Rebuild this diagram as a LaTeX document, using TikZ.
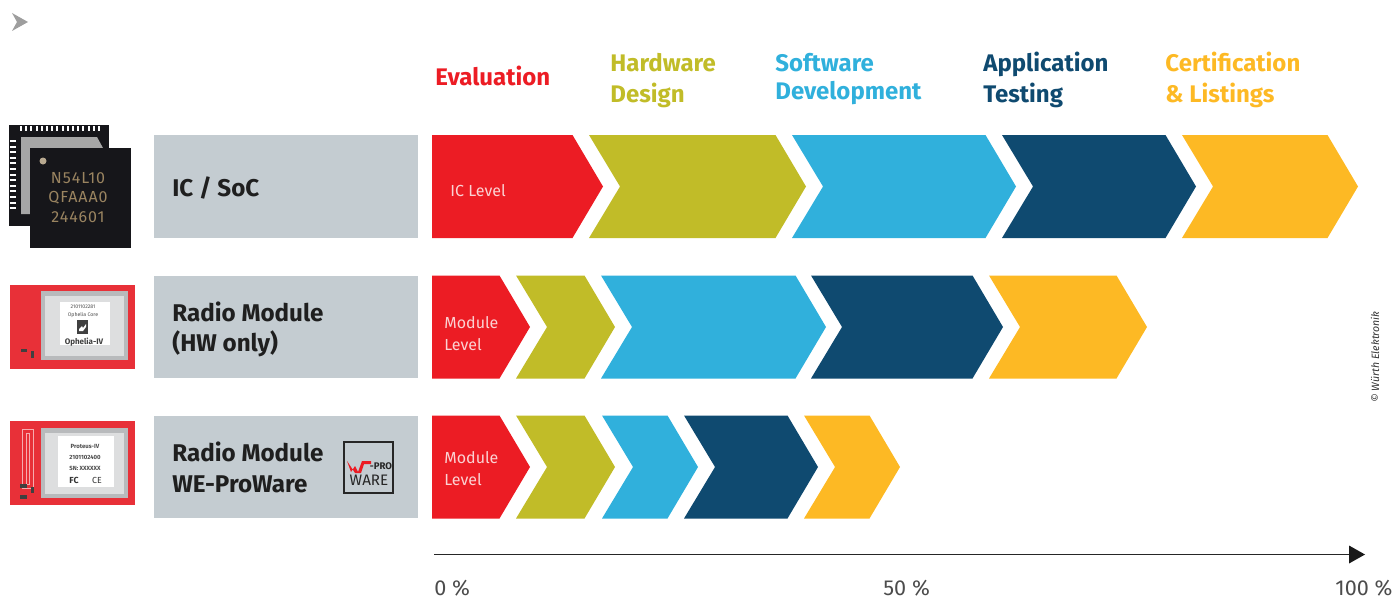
\documentclass[tikz,border=0pt]{standalone}
\usepackage{fontspec}
\setmainfont{Fira Sans}
\definecolor{cRed}{HTML}{EC1C24}
\definecolor{cOlive}{HTML}{C1BC28}
\definecolor{cBlue}{HTML}{30B0DC}
\definecolor{cNavy}{HTML}{0F4A70}
\definecolor{cYellow}{HTML}{FDB924}
\definecolor{cGrey}{HTML}{C4CCD1}
\definecolor{cChip}{HTML}{16161A}
\definecolor{cTan}{HTML}{9A8460}
\definecolor{cPcb}{HTML}{E83038}
\definecolor{cSilver}{HTML}{B8BABC}
\definecolor{cShield}{HTML}{DDDEDF}
\newcommand{\chevronA}[4]{\fill[#1] (#2,#4) -- ({#3-30.5},#4) -- (#3,{#4+51.5}) -- ({#3-30.5},{#4+103}) -- (#2,{#4+103}) -- ({#2+31},{#4+51.5}) -- cycle;}
\newcommand{\chevronF}[4]{\fill[#1] (#2,#4) -- ({#3-30.5},#4) -- (#3,{#4+51.5}) -- ({#3-30.5},{#4+103}) -- (#2,{#4+103}) -- cycle;}
\tikzset{
  x=0.5pt,y=-0.5pt,
  head/.style={anchor=base west,inner sep=0pt,font=\fontsize{12}{12}\selectfont\bfseries},
  rowtitle/.style={anchor=base west,inner sep=0pt,text=black!88,font=\fontsize{12.1}{12.1}\selectfont\bfseries},
  level/.style={anchor=west,inner sep=0pt,text=white!80!cRed,font=\fontsize{8}{8}\selectfont},
  axislab/.style={anchor=west,inner sep=0pt,text=black!70,font=\fontsize{10.8}{10.8}\selectfont},
  chiptext/.style={inner sep=0pt,text=cTan,font=\fontsize{8}{8}\selectfont\addfontfeatures{LetterSpace=6}},
  tiny/.style={inner sep=0pt,text=black!70,font=\fontsize{2.6}{2.6}\selectfont},
  greybox/.style={fill=cGrey},
}
\begin{document}
\begin{tikzpicture}
\useasboundingbox (0,0) rectangle (1395,599);
% top-left marker
\fill[black!38] (12,13) -- (28,22) -- (12,31) -- (17,22) -- cycle;
% column headings
\node[head,text=cRed] (hEval) at (435,85) {Evaluation};
\node[head,text=cOlive] (hHw1) at (610,72) {Hardware};
\node[head,text=cOlive] (hHw2) at (610,103) {Design};
\node[head,text=cBlue] (hSw1) at (775,72) {Software};
\node[head,text=cBlue] (hSw2) at (775,99) {Development};
\node[head,text=cNavy] (hApp1) at (983,72) {Application};
\node[head,text=cNavy] (hApp2) at (983,103) {Testing};
\node[head,text=cYellow] (hCert1) at (1165,72) {Certification};
\node[head,text=cYellow] (hCert2) at (1165,103) {\& Listings};
% grey boxes
\fill[greybox] (154,135) rectangle (418,238);
\fill[greybox] (154,276) rectangle (418,378);
\fill[greybox] (154,416) rectangle (418,518);
\node[rowtitle] (t1) at (172,196) {IC / SoC};
\node[rowtitle] (t2a) at (172,321) {Radio Module};
\node[rowtitle] (t2b) at (172,351) {(HW only)};
\node[rowtitle] (t3a) at (172,461) {Radio Module};
\node[rowtitle] (t3b) at (172,492) {WE-ProWare};
% WE-ProWare logo
\draw[black!85,line width=1pt] (344,442) rectangle (393,493);
\fill[cRed] (347,461) -- (351,472) -- (355,466) -- (358,472) -- (362,461) -- (371,461) -- (371,464) -- (364,464) -- (361,473) -- (355,473) -- cycle;
\node[inner sep=0pt,text=black!85,font=\fontsize{4.8}{4.8}\selectfont\bfseries] (logoA) at (381,466) {-PRO};
\node[inner sep=0pt,text=black!85,font=\fontsize{7.6}{7.6}\selectfont] (logoB) at (369,480) {WARE};
% IC chips
\fill[cChip] (9,125) rectangle (109,226);
\fill[black!35] (21,137) -- (97,137) -- (103,148) -- (30,148) -- (30,214) -- (21,214) -- cycle;
\foreach \i in {0,...,15}{
  \fill[white] ({20+\i*5.2},126) rectangle ({22+\i*5.2},131);
}
\foreach \i in {0,...,12}{
  \fill[white] (10,{140+\i*5.6}) rectangle (16,{142+\i*5.6});
}
\fill[cChip] (30,148) rectangle (131,248);
\fill[cTan!70!white] (43,161) circle (3.5);
\node[chiptext] (c1) at (78,178) {N54L10};
\node[chiptext] (c2) at (78,198) {QFAAA0};
\node[chiptext] (c3) at (78,217) {244601};
% module 1
\fill[cPcb] (10,285) rectangle (135,369);
\fill[cSilver] (41,291) rectangle (128,360);
\fill[cShield] (45,296) rectangle (124,356);
\fill[white] (60,302) rectangle (110,345);
\fill[black!75] (21,349) rectangle (27,352);
\fill[black!75] (31,351) rectangle (34,358);
\node[tiny] (m1a) at (83,307) {2101102281};
\node[tiny] (m1b) at (83,315) {Ophelia Core};
\fill[black!75] (77,320) rectangle (88,334);
\fill[white] (79,329) -- (82,326) -- (83,328) -- (86,324) -- (86,327) -- (83,331) -- (79,331) -- cycle;
\node[inner sep=0pt,text=black!75,font=\fontsize{4}{4}\selectfont\bfseries] (m1c) at (84,342) {Ophelia-IV};
% module 2
\fill[cPcb] (10,421) rectangle (135,505);
\draw[white!60!cPcb,line width=0.4pt] (22,429) rectangle (33,488) (26,433) rectangle (29,484);
\fill[cSilver] (41,428) rectangle (128,498);
\fill[cShield] (45,433) rectangle (124,494);
\fill[white] (58,436) rectangle (114,487);
\fill[black!75] (20,484) rectangle (27,488);
\fill[black!75] (20,495) rectangle (27,499);
\fill[black!75] (31,487) rectangle (34,493);
\node[inner sep=0pt,text=black!70,font=\fontsize{3}{3}\selectfont\bfseries] (m2a) at (85,446) {Proteus-IV};
\node[inner sep=0pt,text=black!70,font=\fontsize{3}{3}\selectfont\bfseries] (m2b) at (85,457) {2101102400};
\node[inner sep=0pt,text=black!70,font=\fontsize{3}{3}\selectfont\bfseries] (m2c) at (85,468) {SN: XXXXXX};
\node[inner sep=0pt,text=black!80,font=\fontsize{4.4}{4.4}\selectfont\bfseries] (m2d) at (74,480) {FC};
\node[inner sep=0pt,text=black!80,font=\fontsize{4.4}{4.4}\selectfont] (m2e) at (97,480) {CE};
% row 1 chevrons
\chevronF{cRed}{432}{603}{135}
\chevronA{cOlive}{589}{806}{135}
\chevronA{cBlue}{792}{1016}{135}
\chevronA{cNavy}{1002}{1196}{135}
\chevronA{cYellow}{1182}{1358}{135}
% row 2 chevrons
\chevronF{cRed}{432}{530}{275.5}
\chevronA{cOlive}{516}{615}{275.5}
\chevronA{cBlue}{601}{826}{275.5}
\chevronA{cNavy}{811}{1003}{275.5}
\chevronA{cYellow}{989}{1147}{275.5}
% row 3 chevrons
\chevronF{cRed}{432}{530}{415.5}
\chevronA{cOlive}{516}{615}{415.5}
\chevronA{cBlue}{602}{698}{415.5}
\chevronA{cNavy}{684}{818}{415.5}
\chevronA{cYellow}{804}{900}{415.5}
% level labels
\node[level] (l1) at (450,191) {IC Level};
\node[level] (l2a) at (444,322.5) {Module};
\node[level] (l2b) at (444,344.5) {Level};
\node[level] (l3a) at (444,457.5) {Module};
\node[level] (l3b) at (444,479.5) {Level};
% axis
\coordinate (axS) at (434,554.5);
\coordinate (axE) at (1349,554.5);
\draw[black!85,line width=0.8pt] (axS) -- (axE);
\fill[black!90] (1349,545.5) -- (1365,554.5) -- (1349,563.5) -- cycle;
\node[axislab] (a0) at (434,588) {0 \%};
\node[axislab] (a50) at (883,588) {50 \%};
\node[axislab] (a100) at (1335,588) {100 \%};
\node[inner sep=0pt,rotate=90,text=black!80,font=\fontsize{5.3}{5.3}\selectfont\itshape] (copy) at (1375,357) {© Würth Elektronik};
\end{tikzpicture}
\end{document}
